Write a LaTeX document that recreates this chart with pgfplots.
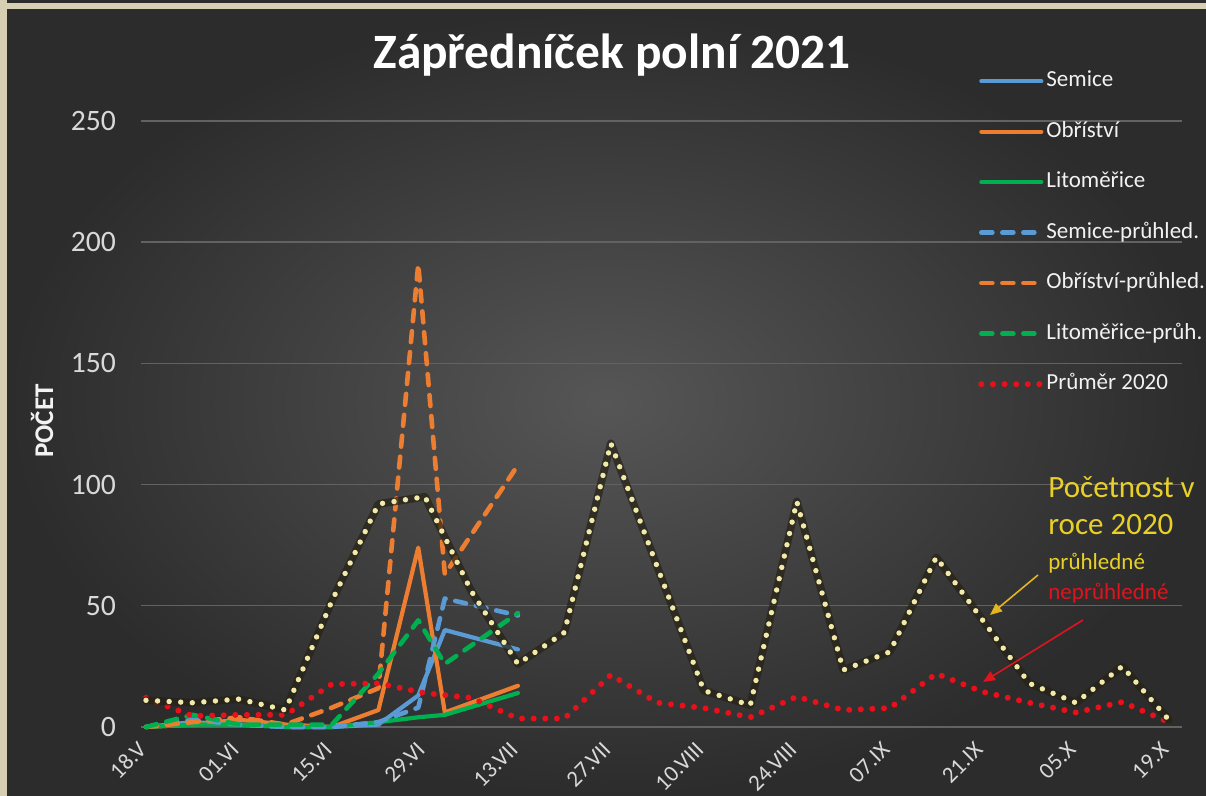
\documentclass[border=0pt]{standalone}
\usepackage{pgfplots}
\pgfplotsset{compat=1.18}
\usepackage{fontspec}
\setmainfont{Carlito}
\usetikzlibrary{arrows.meta}

\definecolor{bgbeige}{RGB}{214,207,180}
\definecolor{bginner}{RGB}{86,86,86}
\definecolor{bgouter}{RGB}{44,44,44}
\definecolor{gridc}{RGB}{98,98,98}
\definecolor{cblue}{RGB}{91,155,213}
\definecolor{corange}{RGB}{237,125,49}
\definecolor{cgreen}{RGB}{0,176,80}
\definecolor{cred}{RGB}{232,16,26}
\definecolor{cyel}{RGB}{242,234,170}
\definecolor{cshadow}{RGB}{38,34,22}
\definecolor{ctick}{RGB}{217,217,217}
\definecolor{anyel}{RGB}{232,208,40}
\definecolor{anarrow}{RGB}{230,180,30}
\definecolor{anred}{RGB}{222,20,30}

\begin{document}
\begin{tikzpicture}
\useasboundingbox (0,0) rectangle (603pt,398pt);
\fill[bgbeige] (0,0) rectangle (603pt,398pt);
\shade[inner color=bginner, outer color=bgouter] (3.5pt,0) rectangle (603pt,393pt);
\fill[bgouter] (3.5pt,396.5pt) rectangle (603pt,398pt);

\begin{axis}[
  at={(70.5pt,34.5pt)}, anchor=south west,
  width=520.5pt, height=303pt, scale only axis,
  xmin=-0.75, xmax=156, ymin=0, ymax=250,
  clip=false,
  axis line style={draw=none},
  tick style={draw=none},
  ytick={0,50,100,150,200,250},
  yticklabels={0,50,100,150,200,250},
  ymajorgrids,
  major grid style={gridc, line width=0.7pt},
  xtick={0,14,28,42,56,70,84,98,112,126,140,154},
  xticklabels={18.V,01.VI,15.VI,29.VI,13.VII,27.VII,10.VIII,24.VIII,07.IX,21.IX,05.X,19.X},
  xticklabel style={xshift=0.5pt, yshift=-7pt, rotate=45, anchor=east, font=\fontsize{11.5}{12}\selectfont, text=ctick},
  yticklabel style={xshift=-9pt, font=\fontsize{14.8}{15}\selectfont, text=ctick},
  title={Zápředníček polní 2021},
  title style={at={(axis description cs:0.4525,1.066)}, anchor=base, font=\bfseries\fontsize{24.7}{26}\selectfont, text=white},
  ylabel={POČET},
  ylabel style={at={(axis description cs:-0.0951,0.505)}, anchor=center, font=\bfseries\fontsize{13.5}{14}\selectfont, text=white!95!black},
  legend cell align=left,
  legend image code/.code={\draw[#1] (0pt,0pt) -- (30pt,0pt);},
  legend style={at={(0.804,1.087)}, anchor=north west, draw=none, fill=none,
    inner sep=0pt, row sep=12.75pt,
    font=\fontsize{11.5}{12}\selectfont, text=white!95!black,
    nodes={inner sep=1pt, text height=8pt, text depth=2.5pt}},
  solid2021/.style={line width=2.1pt, line join=round, line cap=round},
  dash2021/.style={line width=2.3pt, line join=round, line cap=round, dash pattern=on 5.5pt off 5pt},
]

% 2021 series
\addplot[solid2021, cblue] coordinates {(0,0) (7,2) (14,1) (21,0) (28,0) (35,1) (41,13) (45,40) (56,32)};
\addlegendentry{Semice}
\addplot[solid2021, corange] coordinates {(0,0) (7,1) (14,3) (21,1) (28,0) (35,7) (41,74) (45,6) (56,17)};
\addlegendentry{Obříství}
\addplot[solid2021, cgreen] coordinates {(0,0) (7,1) (14,1) (21,0) (28,0) (35,2) (41,4) (45,5) (56,14)};
\addlegendentry{Litoměřice}
\addplot[dash2021, cblue] coordinates {(0,0) (7,3) (14,1) (21,0) (28,0) (35,2) (41,8) (45,53) (56,46)};
\addlegendentry{Semice-průhled.}
\addplot[dash2021, corange] coordinates {(0,0) (7,2) (14,4) (21,1) (28,8) (35,16) (41,191) (45,63) (56,108)};
\addlegendentry{Obříství-průhled.}
\addplot[dash2021, cgreen] coordinates {(0,0) (7,5) (14,1) (21,1) (28,1) (35,22) (41,44) (45,26) (56,47)};
\addlegendentry{Litoměřice-průh.}

% 2020 average (neprůhledné)
\addplot[cred, line width=3pt, line cap=round, dash pattern=on 0pt off 5.8pt] coordinates {
(0,12) (7,4.5) (14,5) (21,5) (28,17.7) (35,18) (42,14) (49,12) (56,3.5) (63,3.5) (70,21.5) (77,10)
(84,7.8) (91,4) (98,12.5) (105,7) (112,7.8) (119,22) (126,14.5) (133,10) (140,6) (147,10.3) (154,2)};
\addlegendentry{Průměr 2020}

% 2020 průhledné (not in legend)
\addplot[forget plot, cshadow, line width=3.9pt, line cap=round, line join=round, opacity=0.7] coordinates {
(0,11) (7,10) (14,11.5) (21,7) (28,52) (35,92) (42,95) (49,56) (56,26) (63,39) (70,117) (77,66)
(84,15) (91,9) (98,93) (105,23.5) (112,31) (119,70) (126,44) (133,18) (140,10) (147,25) (154,3)};
\addplot[forget plot, cyel, line width=2.7pt, line cap=round, dash pattern=on 0pt off 5.8pt] coordinates {
(0,11) (7,10) (14,11.5) (21,7) (28,52) (35,92) (42,95) (49,56) (56,26) (63,39) (70,117) (77,66)
(84,15) (91,9) (98,93) (105,23.5) (112,31) (119,70) (126,44) (133,18) (140,10) (147,25) (154,3)};
\end{axis}

% annotation
\node[anchor=base west, inner sep=0pt, text=anyel, font=\fontsize{15.5}{16}\selectfont] at (524pt,149pt) {Početnost v};
\node[anchor=base west, inner sep=0pt, text=anyel, font=\fontsize{15.5}{16}\selectfont] at (524pt,130.5pt) {roce 2020};
\node[anchor=base west, inner sep=0pt, text=anyel, font=\fontsize{11.5}{12}\selectfont] at (524pt,113pt) {průhledné};
\node[anchor=base west, inner sep=0pt, text=anred, font=\fontsize{11.5}{12}\selectfont] at (524pt,98pt) {neprůhledné};
\draw[anarrow, line width=0.8pt, -{Triangle[length=6pt,width=5pt]}] (519pt,110.5pt) -- (495pt,90.5pt);
\draw[anred, line width=0.8pt, -{Triangle[length=6pt,width=5pt]}] (541.5pt,88pt) -- (491.5pt,57pt);
\end{tikzpicture}
\end{document}
